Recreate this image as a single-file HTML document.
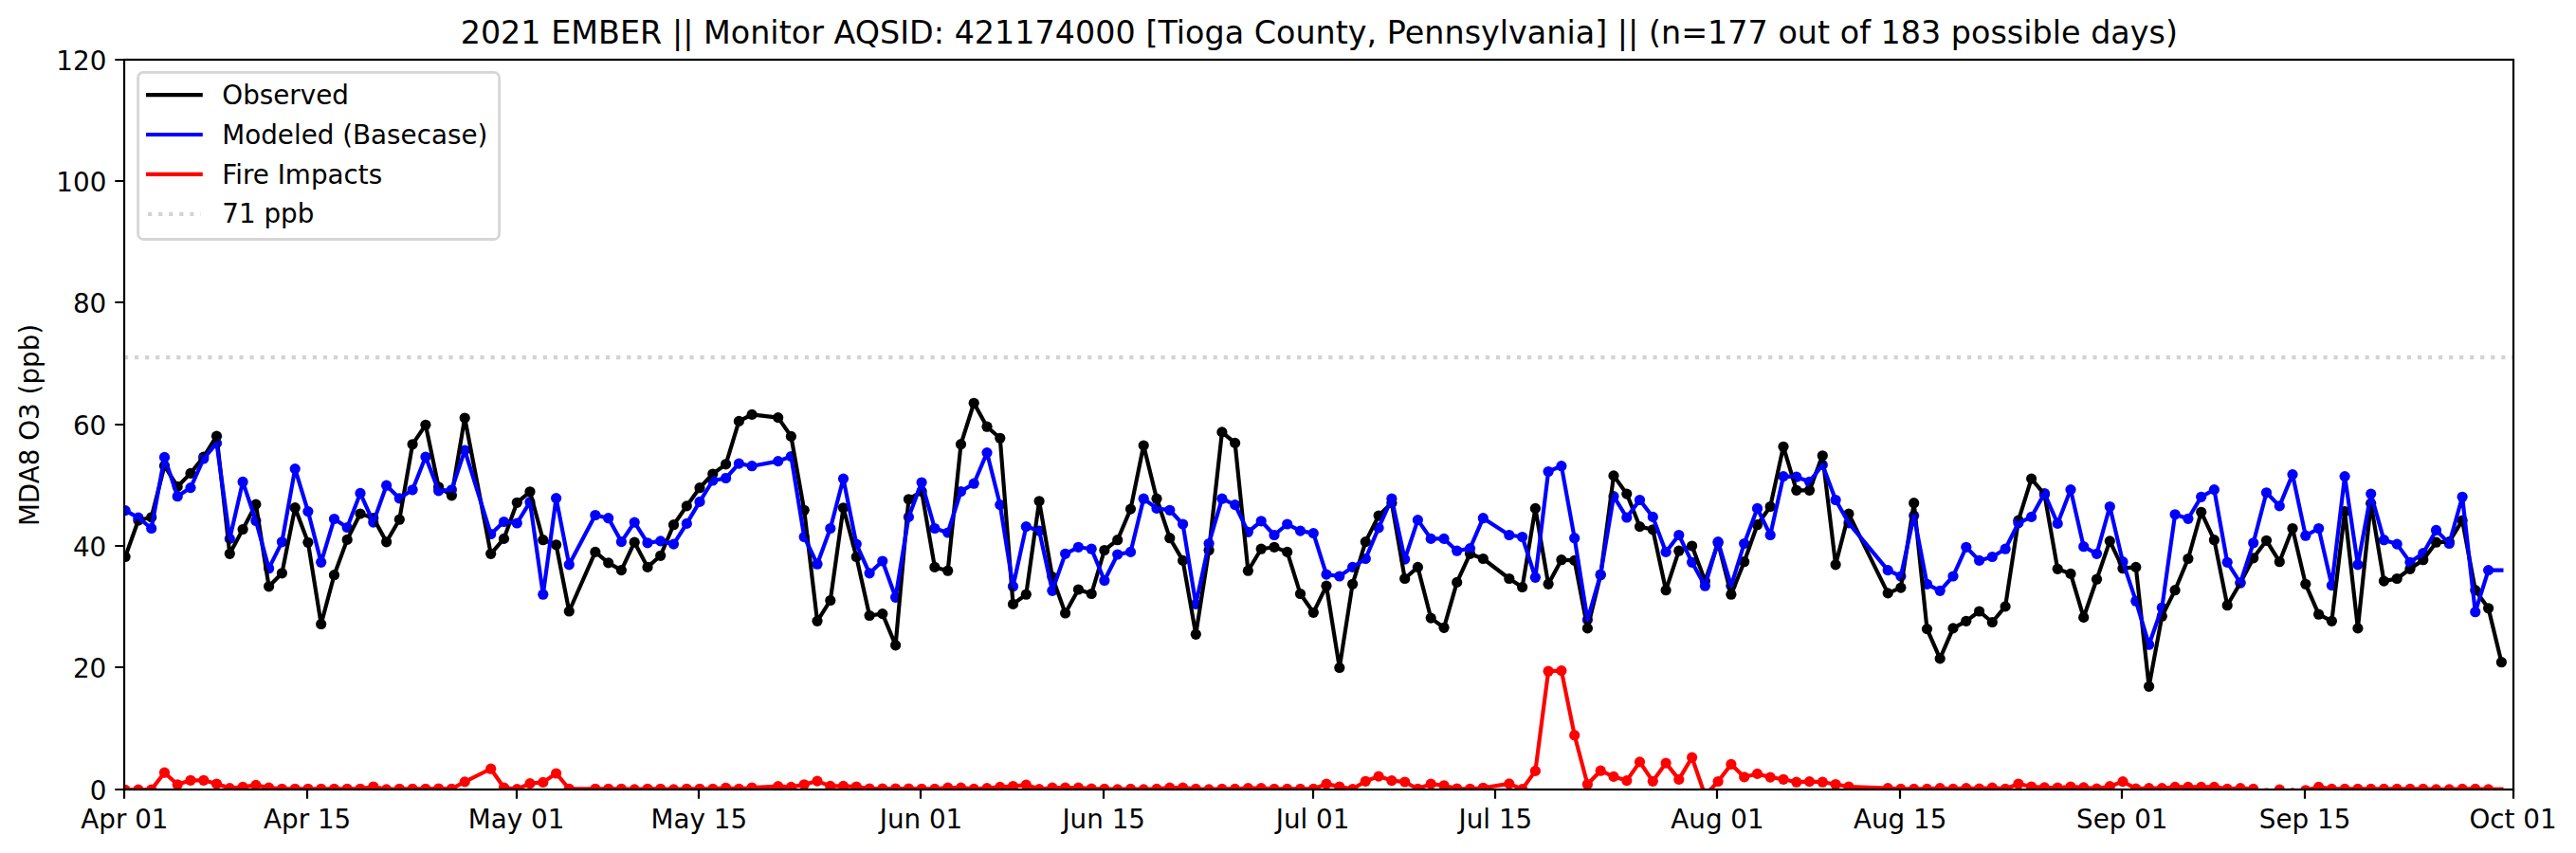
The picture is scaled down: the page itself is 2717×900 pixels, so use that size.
<!DOCTYPE html>
<html><head><meta charset="utf-8"><title>MDA8 O3 time series</title>
<style>html,body{margin:0;padding:0;background:#fff}svg{display:block}text{font-family:"DejaVu Sans","Liberation Sans",sans-serif;fill:#000}</style></head>
<body>
<svg width="2717" height="900" viewBox="0 0 2717 900">
<rect width="2717" height="900" fill="#fff"/>
<defs><clipPath id="ax"><rect x="131.0" y="63.0" width="2520.0" height="770.0"/></clipPath></defs>
<g clip-path="url(#ax)">
<g fill="#000"><circle cx="132.1" cy="587.5" r="5.60"/><circle cx="145.9" cy="549.0" r="5.60"/><circle cx="159.7" cy="545.8" r="5.60"/><circle cx="173.5" cy="491.4" r="5.60"/><circle cx="187.2" cy="513.4" r="5.60"/><circle cx="201.0" cy="499.4" r="5.60"/><circle cx="214.8" cy="482.1" r="5.60"/><circle cx="228.5" cy="460.2" r="5.60"/><circle cx="242.3" cy="584.3" r="5.60"/><circle cx="256.1" cy="558.5" r="5.60"/><circle cx="269.9" cy="532.1" r="5.60"/><circle cx="283.6" cy="618.8" r="5.60"/><circle cx="297.4" cy="604.8" r="5.60"/><circle cx="311.2" cy="535.7" r="5.60"/><circle cx="324.9" cy="572.3" r="5.60"/><circle cx="338.7" cy="658.5" r="5.60"/><circle cx="352.5" cy="606.7" r="5.60"/><circle cx="366.2" cy="569.4" r="5.60"/><circle cx="380.0" cy="542.0" r="5.60"/><circle cx="393.8" cy="546.6" r="5.60"/><circle cx="407.6" cy="571.8" r="5.60"/><circle cx="421.3" cy="548.2" r="5.60"/><circle cx="435.1" cy="468.8" r="5.60"/><circle cx="448.9" cy="448.3" r="5.60"/><circle cx="462.6" cy="513.8" r="5.60"/><circle cx="476.4" cy="522.8" r="5.60"/><circle cx="490.2" cy="441.0" r="5.60"/><circle cx="517.7" cy="584.3" r="5.60"/><circle cx="531.5" cy="568.4" r="5.60"/><circle cx="545.3" cy="530.3" r="5.60"/><circle cx="559.0" cy="518.8" r="5.60"/><circle cx="572.8" cy="569.7" r="5.60"/><circle cx="586.6" cy="574.8" r="5.60"/><circle cx="600.3" cy="645.0" r="5.60"/><circle cx="627.9" cy="582.4" r="5.60"/><circle cx="641.7" cy="593.9" r="5.60"/><circle cx="655.4" cy="601.6" r="5.60"/><circle cx="669.2" cy="572.2" r="5.60"/><circle cx="683.0" cy="598.4" r="5.60"/><circle cx="696.7" cy="586.3" r="5.60"/><circle cx="710.5" cy="553.7" r="5.60"/><circle cx="724.3" cy="533.9" r="5.60"/><circle cx="738.0" cy="514.7" r="5.60"/><circle cx="751.8" cy="500.0" r="5.60"/><circle cx="765.6" cy="489.8" r="5.60"/><circle cx="779.4" cy="444.4" r="5.60"/><circle cx="793.1" cy="437.4" r="5.60"/><circle cx="820.7" cy="440.6" r="5.60"/><circle cx="834.4" cy="460.4" r="5.60"/><circle cx="848.2" cy="538.3" r="5.60"/><circle cx="862.0" cy="655.3" r="5.60"/><circle cx="875.8" cy="633.5" r="5.60"/><circle cx="889.5" cy="535.8" r="5.60"/><circle cx="903.3" cy="587.5" r="5.60"/><circle cx="917.1" cy="649.5" r="5.60"/><circle cx="930.8" cy="647.6" r="5.60"/><circle cx="944.6" cy="680.8" r="5.60"/><circle cx="958.4" cy="526.8" r="5.60"/><circle cx="972.1" cy="518.5" r="5.60"/><circle cx="985.9" cy="598.4" r="5.60"/><circle cx="999.7" cy="602.2" r="5.60"/><circle cx="1013.5" cy="468.7" r="5.60"/><circle cx="1027.2" cy="425.3" r="5.60"/><circle cx="1041.0" cy="450.2" r="5.60"/><circle cx="1054.8" cy="462.3" r="5.60"/><circle cx="1068.5" cy="637.4" r="5.60"/><circle cx="1082.3" cy="627.2" r="5.60"/><circle cx="1096.1" cy="528.8" r="5.60"/><circle cx="1109.9" cy="608.6" r="5.60"/><circle cx="1123.6" cy="647.0" r="5.60"/><circle cx="1137.4" cy="622.0" r="5.60"/><circle cx="1151.2" cy="626.5" r="5.60"/><circle cx="1164.9" cy="580.5" r="5.60"/><circle cx="1178.7" cy="569.7" r="5.60"/><circle cx="1192.5" cy="537.1" r="5.60"/><circle cx="1206.2" cy="470.0" r="5.60"/><circle cx="1220.0" cy="526.2" r="5.60"/><circle cx="1233.8" cy="567.7" r="5.60"/><circle cx="1247.6" cy="591.4" r="5.60"/><circle cx="1261.3" cy="669.3" r="5.60"/><circle cx="1275.1" cy="580.5" r="5.60"/><circle cx="1288.9" cy="455.9" r="5.60"/><circle cx="1302.6" cy="467.4" r="5.60"/><circle cx="1316.4" cy="602.2" r="5.60"/><circle cx="1330.2" cy="579.2" r="5.60"/><circle cx="1344.0" cy="577.3" r="5.60"/><circle cx="1357.7" cy="582.4" r="5.60"/><circle cx="1371.5" cy="626.5" r="5.60"/><circle cx="1385.3" cy="646.3" r="5.60"/><circle cx="1399.0" cy="618.2" r="5.60"/><circle cx="1412.8" cy="704.5" r="5.60"/><circle cx="1426.6" cy="616.3" r="5.60"/><circle cx="1440.3" cy="571.6" r="5.60"/><circle cx="1454.1" cy="544.1" r="5.60"/><circle cx="1467.9" cy="530.7" r="5.60"/><circle cx="1481.7" cy="610.5" r="5.60"/><circle cx="1495.4" cy="598.4" r="5.60"/><circle cx="1509.2" cy="652.1" r="5.60"/><circle cx="1523.0" cy="662.3" r="5.60"/><circle cx="1536.7" cy="614.4" r="5.60"/><circle cx="1550.5" cy="584.3" r="5.60"/><circle cx="1564.3" cy="589.5" r="5.60"/><circle cx="1591.8" cy="610.5" r="5.60"/><circle cx="1605.6" cy="619.5" r="5.60"/><circle cx="1619.4" cy="536.4" r="5.60"/><circle cx="1633.1" cy="616.3" r="5.60"/><circle cx="1646.9" cy="590.7" r="5.60"/><circle cx="1660.7" cy="591.4" r="5.60"/><circle cx="1674.4" cy="662.9" r="5.60"/><circle cx="1688.2" cy="606.7" r="5.60"/><circle cx="1702.0" cy="501.9" r="5.60"/><circle cx="1715.8" cy="521.1" r="5.60"/><circle cx="1729.5" cy="555.6" r="5.60"/><circle cx="1743.3" cy="558.8" r="5.60"/><circle cx="1757.1" cy="622.7" r="5.60"/><circle cx="1770.8" cy="581.2" r="5.60"/><circle cx="1784.6" cy="576.0" r="5.60"/><circle cx="1798.4" cy="613.1" r="5.60"/><circle cx="1812.1" cy="572.8" r="5.60"/><circle cx="1825.9" cy="627.2" r="5.60"/><circle cx="1839.7" cy="592.7" r="5.60"/><circle cx="1853.5" cy="553.7" r="5.60"/><circle cx="1867.2" cy="534.5" r="5.60"/><circle cx="1881.0" cy="471.3" r="5.60"/><circle cx="1894.8" cy="517.3" r="5.60"/><circle cx="1908.5" cy="517.3" r="5.60"/><circle cx="1922.3" cy="480.8" r="5.60"/><circle cx="1936.1" cy="595.8" r="5.60"/><circle cx="1949.9" cy="542.2" r="5.60"/><circle cx="1991.2" cy="625.9" r="5.60"/><circle cx="2004.9" cy="620.1" r="5.60"/><circle cx="2018.7" cy="530.7" r="5.60"/><circle cx="2032.5" cy="663.6" r="5.60"/><circle cx="2046.2" cy="694.9" r="5.60"/><circle cx="2060.0" cy="662.9" r="5.60"/><circle cx="2073.8" cy="655.3" r="5.60"/><circle cx="2087.6" cy="645.0" r="5.60"/><circle cx="2101.3" cy="656.5" r="5.60"/><circle cx="2115.1" cy="639.9" r="5.60"/><circle cx="2128.9" cy="549.2" r="5.60"/><circle cx="2142.6" cy="505.1" r="5.60"/><circle cx="2156.4" cy="521.7" r="5.60"/><circle cx="2170.2" cy="600.3" r="5.60"/><circle cx="2184.0" cy="605.4" r="5.60"/><circle cx="2197.7" cy="651.4" r="5.60"/><circle cx="2211.5" cy="611.2" r="5.60"/><circle cx="2225.3" cy="570.9" r="5.60"/><circle cx="2239.0" cy="599.7" r="5.60"/><circle cx="2252.8" cy="598.4" r="5.60"/><circle cx="2266.6" cy="724.3" r="5.60"/><circle cx="2280.3" cy="650.2" r="5.60"/><circle cx="2294.1" cy="622.7" r="5.60"/><circle cx="2307.9" cy="589.5" r="5.60"/><circle cx="2321.7" cy="540.3" r="5.60"/><circle cx="2335.4" cy="569.7" r="5.60"/><circle cx="2349.2" cy="638.7" r="5.60"/><circle cx="2363.0" cy="615.0" r="5.60"/><circle cx="2376.7" cy="588.8" r="5.60"/><circle cx="2390.5" cy="570.3" r="5.60"/><circle cx="2404.3" cy="592.7" r="5.60"/><circle cx="2418.0" cy="557.5" r="5.60"/><circle cx="2431.8" cy="616.3" r="5.60"/><circle cx="2445.6" cy="648.2" r="5.60"/><circle cx="2459.4" cy="655.3" r="5.60"/><circle cx="2473.1" cy="539.6" r="5.60"/><circle cx="2486.9" cy="662.9" r="5.60"/><circle cx="2500.7" cy="531.3" r="5.60"/><circle cx="2514.4" cy="613.1" r="5.60"/><circle cx="2528.2" cy="610.5" r="5.60"/><circle cx="2542.0" cy="600.3" r="5.60"/><circle cx="2555.8" cy="590.7" r="5.60"/><circle cx="2569.5" cy="572.2" r="5.60"/><circle cx="2583.3" cy="571.6" r="5.60"/><circle cx="2597.1" cy="549.2" r="5.60"/><circle cx="2610.8" cy="622.7" r="5.60"/><circle cx="2624.6" cy="641.8" r="5.60"/><circle cx="2638.4" cy="698.7" r="5.60"/></g>
<g fill="#00f"><circle cx="132.1" cy="538.6" r="5.60"/><circle cx="145.9" cy="546.1" r="5.60"/><circle cx="159.7" cy="557.5" r="5.60"/><circle cx="173.5" cy="482.4" r="5.60"/><circle cx="187.2" cy="523.7" r="5.60"/><circle cx="201.0" cy="514.6" r="5.60"/><circle cx="214.8" cy="484.0" r="5.60"/><circle cx="228.5" cy="467.6" r="5.60"/><circle cx="242.3" cy="568.4" r="5.60"/><circle cx="256.1" cy="508.4" r="5.60"/><circle cx="269.9" cy="549.5" r="5.60"/><circle cx="283.6" cy="599.7" r="5.60"/><circle cx="297.4" cy="571.8" r="5.60"/><circle cx="311.2" cy="494.6" r="5.60"/><circle cx="324.9" cy="539.6" r="5.60"/><circle cx="338.7" cy="593.3" r="5.60"/><circle cx="352.5" cy="547.5" r="5.60"/><circle cx="366.2" cy="556.5" r="5.60"/><circle cx="380.0" cy="520.4" r="5.60"/><circle cx="393.8" cy="551.1" r="5.60"/><circle cx="407.6" cy="512.2" r="5.60"/><circle cx="421.3" cy="525.8" r="5.60"/><circle cx="435.1" cy="516.8" r="5.60"/><circle cx="448.9" cy="482.1" r="5.60"/><circle cx="462.6" cy="517.8" r="5.60"/><circle cx="476.4" cy="516.8" r="5.60"/><circle cx="490.2" cy="475.1" r="5.60"/><circle cx="517.7" cy="563.5" r="5.60"/><circle cx="531.5" cy="550.5" r="5.60"/><circle cx="545.3" cy="552.0" r="5.60"/><circle cx="559.0" cy="529.7" r="5.60"/><circle cx="572.8" cy="627.2" r="5.60"/><circle cx="586.6" cy="525.6" r="5.60"/><circle cx="600.3" cy="595.8" r="5.60"/><circle cx="627.9" cy="543.5" r="5.60"/><circle cx="641.7" cy="546.7" r="5.60"/><circle cx="655.4" cy="571.6" r="5.60"/><circle cx="669.2" cy="551.1" r="5.60"/><circle cx="683.0" cy="572.8" r="5.60"/><circle cx="696.7" cy="570.9" r="5.60"/><circle cx="710.5" cy="574.1" r="5.60"/><circle cx="724.3" cy="552.4" r="5.60"/><circle cx="738.0" cy="529.4" r="5.60"/><circle cx="751.8" cy="507.0" r="5.60"/><circle cx="765.6" cy="504.5" r="5.60"/><circle cx="779.4" cy="489.1" r="5.60"/><circle cx="793.1" cy="491.7" r="5.60"/><circle cx="820.7" cy="486.6" r="5.60"/><circle cx="834.4" cy="481.5" r="5.60"/><circle cx="848.2" cy="566.5" r="5.60"/><circle cx="862.0" cy="595.2" r="5.60"/><circle cx="875.8" cy="557.5" r="5.60"/><circle cx="889.5" cy="505.1" r="5.60"/><circle cx="903.3" cy="574.1" r="5.60"/><circle cx="917.1" cy="604.8" r="5.60"/><circle cx="930.8" cy="592.0" r="5.60"/><circle cx="944.6" cy="630.3" r="5.60"/><circle cx="958.4" cy="545.4" r="5.60"/><circle cx="972.1" cy="509.0" r="5.60"/><circle cx="985.9" cy="557.5" r="5.60"/><circle cx="999.7" cy="562.0" r="5.60"/><circle cx="1013.5" cy="518.5" r="5.60"/><circle cx="1027.2" cy="510.2" r="5.60"/><circle cx="1041.0" cy="477.6" r="5.60"/><circle cx="1054.8" cy="532.6" r="5.60"/><circle cx="1068.5" cy="618.8" r="5.60"/><circle cx="1082.3" cy="555.6" r="5.60"/><circle cx="1096.1" cy="560.1" r="5.60"/><circle cx="1109.9" cy="623.3" r="5.60"/><circle cx="1123.6" cy="584.3" r="5.60"/><circle cx="1137.4" cy="577.3" r="5.60"/><circle cx="1151.2" cy="579.2" r="5.60"/><circle cx="1164.9" cy="612.5" r="5.60"/><circle cx="1178.7" cy="585.0" r="5.60"/><circle cx="1192.5" cy="582.4" r="5.60"/><circle cx="1206.2" cy="526.2" r="5.60"/><circle cx="1220.0" cy="536.4" r="5.60"/><circle cx="1233.8" cy="538.3" r="5.60"/><circle cx="1247.6" cy="553.0" r="5.60"/><circle cx="1261.3" cy="637.4" r="5.60"/><circle cx="1275.1" cy="573.5" r="5.60"/><circle cx="1288.9" cy="526.2" r="5.60"/><circle cx="1302.6" cy="532.6" r="5.60"/><circle cx="1316.4" cy="561.3" r="5.60"/><circle cx="1330.2" cy="549.8" r="5.60"/><circle cx="1344.0" cy="564.5" r="5.60"/><circle cx="1357.7" cy="553.0" r="5.60"/><circle cx="1371.5" cy="560.1" r="5.60"/><circle cx="1385.3" cy="562.6" r="5.60"/><circle cx="1399.0" cy="606.1" r="5.60"/><circle cx="1412.8" cy="608.0" r="5.60"/><circle cx="1426.6" cy="598.4" r="5.60"/><circle cx="1440.3" cy="589.5" r="5.60"/><circle cx="1454.1" cy="556.9" r="5.60"/><circle cx="1467.9" cy="526.2" r="5.60"/><circle cx="1481.7" cy="590.1" r="5.60"/><circle cx="1495.4" cy="548.6" r="5.60"/><circle cx="1509.2" cy="568.4" r="5.60"/><circle cx="1523.0" cy="568.4" r="5.60"/><circle cx="1536.7" cy="581.2" r="5.60"/><circle cx="1550.5" cy="578.6" r="5.60"/><circle cx="1564.3" cy="546.7" r="5.60"/><circle cx="1591.8" cy="564.5" r="5.60"/><circle cx="1605.6" cy="566.5" r="5.60"/><circle cx="1619.4" cy="609.3" r="5.60"/><circle cx="1633.1" cy="497.5" r="5.60"/><circle cx="1646.9" cy="491.7" r="5.60"/><circle cx="1660.7" cy="567.7" r="5.60"/><circle cx="1674.4" cy="654.0" r="5.60"/><circle cx="1688.2" cy="606.1" r="5.60"/><circle cx="1702.0" cy="523.7" r="5.60"/><circle cx="1715.8" cy="546.0" r="5.60"/><circle cx="1729.5" cy="527.5" r="5.60"/><circle cx="1743.3" cy="545.4" r="5.60"/><circle cx="1757.1" cy="582.4" r="5.60"/><circle cx="1770.8" cy="564.5" r="5.60"/><circle cx="1784.6" cy="593.3" r="5.60"/><circle cx="1798.4" cy="618.2" r="5.60"/><circle cx="1812.1" cy="571.6" r="5.60"/><circle cx="1825.9" cy="618.2" r="5.60"/><circle cx="1839.7" cy="573.5" r="5.60"/><circle cx="1853.5" cy="536.4" r="5.60"/><circle cx="1867.2" cy="564.5" r="5.60"/><circle cx="1881.0" cy="502.6" r="5.60"/><circle cx="1894.8" cy="503.2" r="5.60"/><circle cx="1908.5" cy="508.3" r="5.60"/><circle cx="1922.3" cy="490.4" r="5.60"/><circle cx="1936.1" cy="527.5" r="5.60"/><circle cx="1949.9" cy="551.8" r="5.60"/><circle cx="1991.2" cy="601.6" r="5.60"/><circle cx="2004.9" cy="608.0" r="5.60"/><circle cx="2018.7" cy="544.1" r="5.60"/><circle cx="2032.5" cy="616.3" r="5.60"/><circle cx="2046.2" cy="623.3" r="5.60"/><circle cx="2060.0" cy="608.0" r="5.60"/><circle cx="2073.8" cy="577.3" r="5.60"/><circle cx="2087.6" cy="591.4" r="5.60"/><circle cx="2101.3" cy="587.5" r="5.60"/><circle cx="2115.1" cy="579.2" r="5.60"/><circle cx="2128.9" cy="551.8" r="5.60"/><circle cx="2142.6" cy="545.4" r="5.60"/><circle cx="2156.4" cy="520.5" r="5.60"/><circle cx="2170.2" cy="552.4" r="5.60"/><circle cx="2184.0" cy="516.6" r="5.60"/><circle cx="2197.7" cy="576.7" r="5.60"/><circle cx="2211.5" cy="584.3" r="5.60"/><circle cx="2225.3" cy="534.5" r="5.60"/><circle cx="2239.0" cy="592.7" r="5.60"/><circle cx="2252.8" cy="634.2" r="5.60"/><circle cx="2266.6" cy="680.2" r="5.60"/><circle cx="2280.3" cy="641.2" r="5.60"/><circle cx="2294.1" cy="542.8" r="5.60"/><circle cx="2307.9" cy="547.3" r="5.60"/><circle cx="2321.7" cy="524.3" r="5.60"/><circle cx="2335.4" cy="516.6" r="5.60"/><circle cx="2349.2" cy="593.3" r="5.60"/><circle cx="2363.0" cy="615.0" r="5.60"/><circle cx="2376.7" cy="572.8" r="5.60"/><circle cx="2390.5" cy="519.8" r="5.60"/><circle cx="2404.3" cy="533.9" r="5.60"/><circle cx="2418.0" cy="500.6" r="5.60"/><circle cx="2431.8" cy="565.2" r="5.60"/><circle cx="2445.6" cy="557.5" r="5.60"/><circle cx="2459.4" cy="617.6" r="5.60"/><circle cx="2473.1" cy="502.6" r="5.60"/><circle cx="2486.9" cy="595.8" r="5.60"/><circle cx="2500.7" cy="521.1" r="5.60"/><circle cx="2514.4" cy="569.7" r="5.60"/><circle cx="2528.2" cy="574.1" r="5.60"/><circle cx="2542.0" cy="593.3" r="5.60"/><circle cx="2555.8" cy="583.7" r="5.60"/><circle cx="2569.5" cy="559.4" r="5.60"/><circle cx="2583.3" cy="573.5" r="5.60"/><circle cx="2597.1" cy="524.3" r="5.60"/><circle cx="2610.8" cy="645.7" r="5.60"/><circle cx="2624.6" cy="601.6" r="5.60"/></g>
<g fill="#f00"><circle cx="132.1" cy="833.4" r="5.60"/><circle cx="145.9" cy="833.2" r="5.60"/><circle cx="159.7" cy="833.1" r="5.60"/><circle cx="173.5" cy="815.2" r="5.60"/><circle cx="187.2" cy="827.8" r="5.60"/><circle cx="201.0" cy="823.3" r="5.60"/><circle cx="214.8" cy="823.3" r="5.60"/><circle cx="228.5" cy="827.0" r="5.60"/><circle cx="242.3" cy="831.6" r="5.60"/><circle cx="256.1" cy="830.4" r="5.60"/><circle cx="269.9" cy="828.4" r="5.60"/><circle cx="283.6" cy="831.2" r="5.60"/><circle cx="297.4" cy="832.3" r="5.60"/><circle cx="311.2" cy="832.3" r="5.60"/><circle cx="324.9" cy="832.3" r="5.60"/><circle cx="338.7" cy="832.3" r="5.60"/><circle cx="352.5" cy="832.3" r="5.60"/><circle cx="366.2" cy="832.3" r="5.60"/><circle cx="380.0" cy="832.3" r="5.60"/><circle cx="393.8" cy="830.0" r="5.60"/><circle cx="407.6" cy="832.9" r="5.60"/><circle cx="421.3" cy="832.3" r="5.60"/><circle cx="435.1" cy="832.3" r="5.60"/><circle cx="448.9" cy="832.3" r="5.60"/><circle cx="462.6" cy="832.0" r="5.60"/><circle cx="476.4" cy="832.3" r="5.60"/><circle cx="490.2" cy="824.9" r="5.60"/><circle cx="517.7" cy="811.2" r="5.60"/><circle cx="531.5" cy="831.0" r="5.60"/><circle cx="545.3" cy="832.6" r="5.60"/><circle cx="559.0" cy="826.6" r="5.60"/><circle cx="572.8" cy="825.4" r="5.60"/><circle cx="586.6" cy="816.0" r="5.60"/><circle cx="600.3" cy="832.3" r="5.60"/><circle cx="627.9" cy="832.3" r="5.60"/><circle cx="641.7" cy="832.3" r="5.60"/><circle cx="655.4" cy="832.3" r="5.60"/><circle cx="669.2" cy="832.9" r="5.60"/><circle cx="683.0" cy="832.3" r="5.60"/><circle cx="696.7" cy="832.3" r="5.60"/><circle cx="710.5" cy="832.9" r="5.60"/><circle cx="724.3" cy="832.3" r="5.60"/><circle cx="738.0" cy="832.3" r="5.60"/><circle cx="751.8" cy="832.3" r="5.60"/><circle cx="765.6" cy="831.3" r="5.60"/><circle cx="779.4" cy="832.3" r="5.60"/><circle cx="793.1" cy="831.0" r="5.60"/><circle cx="820.7" cy="829.7" r="5.60"/><circle cx="834.4" cy="830.4" r="5.60"/><circle cx="848.2" cy="827.8" r="5.60"/><circle cx="862.0" cy="824.1" r="5.60"/><circle cx="875.8" cy="829.4" r="5.60"/><circle cx="889.5" cy="829.4" r="5.60"/><circle cx="903.3" cy="830.0" r="5.60"/><circle cx="917.1" cy="832.0" r="5.60"/><circle cx="930.8" cy="832.0" r="5.60"/><circle cx="944.6" cy="832.0" r="5.60"/><circle cx="958.4" cy="832.0" r="5.60"/><circle cx="972.1" cy="832.3" r="5.60"/><circle cx="985.9" cy="832.4" r="5.60"/><circle cx="999.7" cy="831.2" r="5.60"/><circle cx="1013.5" cy="831.2" r="5.60"/><circle cx="1027.2" cy="832.4" r="5.60"/><circle cx="1041.0" cy="831.6" r="5.60"/><circle cx="1054.8" cy="830.4" r="5.60"/><circle cx="1068.5" cy="829.5" r="5.60"/><circle cx="1082.3" cy="828.1" r="5.60"/><circle cx="1096.1" cy="832.6" r="5.60"/><circle cx="1109.9" cy="831.2" r="5.60"/><circle cx="1123.6" cy="831.2" r="5.60"/><circle cx="1137.4" cy="831.2" r="5.60"/><circle cx="1151.2" cy="832.1" r="5.60"/><circle cx="1164.9" cy="832.4" r="5.60"/><circle cx="1178.7" cy="832.9" r="5.60"/><circle cx="1192.5" cy="832.4" r="5.60"/><circle cx="1206.2" cy="832.9" r="5.60"/><circle cx="1220.0" cy="832.4" r="5.60"/><circle cx="1233.8" cy="831.2" r="5.60"/><circle cx="1247.6" cy="831.2" r="5.60"/><circle cx="1261.3" cy="832.4" r="5.60"/><circle cx="1275.1" cy="832.9" r="5.60"/><circle cx="1288.9" cy="832.4" r="5.60"/><circle cx="1302.6" cy="832.4" r="5.60"/><circle cx="1316.4" cy="831.6" r="5.60"/><circle cx="1330.2" cy="831.6" r="5.60"/><circle cx="1344.0" cy="832.4" r="5.60"/><circle cx="1357.7" cy="832.4" r="5.60"/><circle cx="1371.5" cy="832.4" r="5.60"/><circle cx="1385.3" cy="832.4" r="5.60"/><circle cx="1399.0" cy="827.1" r="5.60"/><circle cx="1412.8" cy="830.0" r="5.60"/><circle cx="1426.6" cy="832.6" r="5.60"/><circle cx="1440.3" cy="824.3" r="5.60"/><circle cx="1454.1" cy="819.1" r="5.60"/><circle cx="1467.9" cy="823.6" r="5.60"/><circle cx="1481.7" cy="825.0" r="5.60"/><circle cx="1495.4" cy="832.3" r="5.60"/><circle cx="1509.2" cy="827.1" r="5.60"/><circle cx="1523.0" cy="828.8" r="5.60"/><circle cx="1536.7" cy="832.0" r="5.60"/><circle cx="1550.5" cy="832.3" r="5.60"/><circle cx="1564.3" cy="831.3" r="5.60"/><circle cx="1591.8" cy="826.9" r="5.60"/><circle cx="1605.6" cy="832.6" r="5.60"/><circle cx="1619.4" cy="813.4" r="5.60"/><circle cx="1633.1" cy="708.2" r="5.60"/><circle cx="1646.9" cy="707.6" r="5.60"/><circle cx="1660.7" cy="775.7" r="5.60"/><circle cx="1674.4" cy="827.5" r="5.60"/><circle cx="1688.2" cy="813.2" r="5.60"/><circle cx="1702.0" cy="819.4" r="5.60"/><circle cx="1715.8" cy="823.6" r="5.60"/><circle cx="1729.5" cy="803.9" r="5.60"/><circle cx="1743.3" cy="824.3" r="5.60"/><circle cx="1757.1" cy="805.1" r="5.60"/><circle cx="1770.8" cy="822.4" r="5.60"/><circle cx="1784.6" cy="799.2" r="5.60"/><circle cx="1798.4" cy="839.3" r="5.60"/><circle cx="1812.1" cy="824.5" r="5.60"/><circle cx="1825.9" cy="806.4" r="5.60"/><circle cx="1839.7" cy="819.8" r="5.60"/><circle cx="1853.5" cy="816.4" r="5.60"/><circle cx="1867.2" cy="820.1" r="5.60"/><circle cx="1881.0" cy="822.3" r="5.60"/><circle cx="1894.8" cy="825.2" r="5.60"/><circle cx="1908.5" cy="824.6" r="5.60"/><circle cx="1922.3" cy="825.2" r="5.60"/><circle cx="1936.1" cy="827.5" r="5.60"/><circle cx="1949.9" cy="830.0" r="5.60"/><circle cx="1991.2" cy="831.7" r="5.60"/><circle cx="2004.9" cy="832.4" r="5.60"/><circle cx="2018.7" cy="832.4" r="5.60"/><circle cx="2032.5" cy="832.4" r="5.60"/><circle cx="2046.2" cy="831.7" r="5.60"/><circle cx="2060.0" cy="832.4" r="5.60"/><circle cx="2073.8" cy="831.7" r="5.60"/><circle cx="2087.6" cy="832.1" r="5.60"/><circle cx="2101.3" cy="831.2" r="5.60"/><circle cx="2115.1" cy="832.4" r="5.60"/><circle cx="2128.9" cy="827.0" r="5.60"/><circle cx="2142.6" cy="830.0" r="5.60"/><circle cx="2156.4" cy="830.9" r="5.60"/><circle cx="2170.2" cy="831.2" r="5.60"/><circle cx="2184.0" cy="830.0" r="5.60"/><circle cx="2197.7" cy="830.9" r="5.60"/><circle cx="2211.5" cy="832.1" r="5.60"/><circle cx="2225.3" cy="829.7" r="5.60"/><circle cx="2239.0" cy="824.6" r="5.60"/><circle cx="2252.8" cy="832.1" r="5.60"/><circle cx="2266.6" cy="831.7" r="5.60"/><circle cx="2280.3" cy="831.7" r="5.60"/><circle cx="2294.1" cy="830.4" r="5.60"/><circle cx="2307.9" cy="830.4" r="5.60"/><circle cx="2321.7" cy="830.4" r="5.60"/><circle cx="2335.4" cy="830.4" r="5.60"/><circle cx="2349.2" cy="832.4" r="5.60"/><circle cx="2363.0" cy="831.7" r="5.60"/><circle cx="2376.7" cy="832.4" r="5.60"/><circle cx="2390.5" cy="837.2" r="5.60"/><circle cx="2404.3" cy="833.2" r="5.60"/><circle cx="2418.0" cy="836.8" r="5.60"/><circle cx="2431.8" cy="833.8" r="5.60"/><circle cx="2445.6" cy="830.4" r="5.60"/><circle cx="2459.4" cy="832.4" r="5.60"/><circle cx="2473.1" cy="832.4" r="5.60"/><circle cx="2486.9" cy="832.4" r="5.60"/><circle cx="2500.7" cy="832.4" r="5.60"/><circle cx="2514.4" cy="832.4" r="5.60"/><circle cx="2528.2" cy="832.4" r="5.60"/><circle cx="2542.0" cy="832.4" r="5.60"/><circle cx="2555.8" cy="832.4" r="5.60"/><circle cx="2569.5" cy="832.9" r="5.60"/><circle cx="2583.3" cy="832.9" r="5.60"/><circle cx="2597.1" cy="832.4" r="5.60"/><circle cx="2610.8" cy="832.4" r="5.60"/><circle cx="2624.6" cy="832.9" r="5.60"/></g>
<polyline fill="none" stroke="#000" stroke-width="4.17" stroke-linejoin="round" stroke-linecap="square" points="132.1,587.5 145.9,549.0 159.7,545.8 173.5,491.4 187.2,513.4 201.0,499.4 214.8,482.1 228.5,460.2 242.3,584.3 256.1,558.5 269.9,532.1 283.6,618.8 297.4,604.8 311.2,535.7 324.9,572.3 338.7,658.5 352.5,606.7 366.2,569.4 380.0,542.0 393.8,546.6 407.6,571.8 421.3,548.2 435.1,468.8 448.9,448.3 462.6,513.8 476.4,522.8 490.2,441.0 517.7,584.3 531.5,568.4 545.3,530.3 559.0,518.8 572.8,569.7 586.6,574.8 600.3,645.0 627.9,582.4 641.7,593.9 655.4,601.6 669.2,572.2 683.0,598.4 696.7,586.3 710.5,553.7 724.3,533.9 738.0,514.7 751.8,500.0 765.6,489.8 779.4,444.4 793.1,437.4 820.7,440.6 834.4,460.4 848.2,538.3 862.0,655.3 875.8,633.5 889.5,535.8 903.3,587.5 917.1,649.5 930.8,647.6 944.6,680.8 958.4,526.8 972.1,518.5 985.9,598.4 999.7,602.2 1013.5,468.7 1027.2,425.3 1041.0,450.2 1054.8,462.3 1068.5,637.4 1082.3,627.2 1096.1,528.8 1109.9,608.6 1123.6,647.0 1137.4,622.0 1151.2,626.5 1164.9,580.5 1178.7,569.7 1192.5,537.1 1206.2,470.0 1220.0,526.2 1233.8,567.7 1247.6,591.4 1261.3,669.3 1275.1,580.5 1288.9,455.9 1302.6,467.4 1316.4,602.2 1330.2,579.2 1344.0,577.3 1357.7,582.4 1371.5,626.5 1385.3,646.3 1399.0,618.2 1412.8,704.5 1426.6,616.3 1440.3,571.6 1454.1,544.1 1467.9,530.7 1481.7,610.5 1495.4,598.4 1509.2,652.1 1523.0,662.3 1536.7,614.4 1550.5,584.3 1564.3,589.5 1591.8,610.5 1605.6,619.5 1619.4,536.4 1633.1,616.3 1646.9,590.7 1660.7,591.4 1674.4,662.9 1688.2,606.7 1702.0,501.9 1715.8,521.1 1729.5,555.6 1743.3,558.8 1757.1,622.7 1770.8,581.2 1784.6,576.0 1798.4,613.1 1812.1,572.8 1825.9,627.2 1839.7,592.7 1853.5,553.7 1867.2,534.5 1881.0,471.3 1894.8,517.3 1908.5,517.3 1922.3,480.8 1936.1,595.8 1949.9,542.2 1991.2,625.9 2004.9,620.1 2018.7,530.7 2032.5,663.6 2046.2,694.9 2060.0,662.9 2073.8,655.3 2087.6,645.0 2101.3,656.5 2115.1,639.9 2128.9,549.2 2142.6,505.1 2156.4,521.7 2170.2,600.3 2184.0,605.4 2197.7,651.4 2211.5,611.2 2225.3,570.9 2239.0,599.7 2252.8,598.4 2266.6,724.3 2280.3,650.2 2294.1,622.7 2307.9,589.5 2321.7,540.3 2335.4,569.7 2349.2,638.7 2363.0,615.0 2376.7,588.8 2390.5,570.3 2404.3,592.7 2418.0,557.5 2431.8,616.3 2445.6,648.2 2459.4,655.3 2473.1,539.6 2486.9,662.9 2500.7,531.3 2514.4,613.1 2528.2,610.5 2542.0,600.3 2555.8,590.7 2569.5,572.2 2583.3,571.6 2597.1,549.2 2610.8,622.7 2624.6,641.8 2638.4,698.7"/>
<polyline fill="none" stroke="#00f" stroke-width="4.17" stroke-linejoin="round" stroke-linecap="square" points="132.1,538.6 145.9,546.1 159.7,557.5 173.5,482.4 187.2,523.7 201.0,514.6 214.8,484.0 228.5,467.6 242.3,568.4 256.1,508.4 269.9,549.5 283.6,599.7 297.4,571.8 311.2,494.6 324.9,539.6 338.7,593.3 352.5,547.5 366.2,556.5 380.0,520.4 393.8,551.1 407.6,512.2 421.3,525.8 435.1,516.8 448.9,482.1 462.6,517.8 476.4,516.8 490.2,475.1 517.7,563.5 531.5,550.5 545.3,552.0 559.0,529.7 572.8,627.2 586.6,525.6 600.3,595.8 627.9,543.5 641.7,546.7 655.4,571.6 669.2,551.1 683.0,572.8 696.7,570.9 710.5,574.1 724.3,552.4 738.0,529.4 751.8,507.0 765.6,504.5 779.4,489.1 793.1,491.7 820.7,486.6 834.4,481.5 848.2,566.5 862.0,595.2 875.8,557.5 889.5,505.1 903.3,574.1 917.1,604.8 930.8,592.0 944.6,630.3 958.4,545.4 972.1,509.0 985.9,557.5 999.7,562.0 1013.5,518.5 1027.2,510.2 1041.0,477.6 1054.8,532.6 1068.5,618.8 1082.3,555.6 1096.1,560.1 1109.9,623.3 1123.6,584.3 1137.4,577.3 1151.2,579.2 1164.9,612.5 1178.7,585.0 1192.5,582.4 1206.2,526.2 1220.0,536.4 1233.8,538.3 1247.6,553.0 1261.3,637.4 1275.1,573.5 1288.9,526.2 1302.6,532.6 1316.4,561.3 1330.2,549.8 1344.0,564.5 1357.7,553.0 1371.5,560.1 1385.3,562.6 1399.0,606.1 1412.8,608.0 1426.6,598.4 1440.3,589.5 1454.1,556.9 1467.9,526.2 1481.7,590.1 1495.4,548.6 1509.2,568.4 1523.0,568.4 1536.7,581.2 1550.5,578.6 1564.3,546.7 1591.8,564.5 1605.6,566.5 1619.4,609.3 1633.1,497.5 1646.9,491.7 1660.7,567.7 1674.4,654.0 1688.2,606.1 1702.0,523.7 1715.8,546.0 1729.5,527.5 1743.3,545.4 1757.1,582.4 1770.8,564.5 1784.6,593.3 1798.4,618.2 1812.1,571.6 1825.9,618.2 1839.7,573.5 1853.5,536.4 1867.2,564.5 1881.0,502.6 1894.8,503.2 1908.5,508.3 1922.3,490.4 1936.1,527.5 1949.9,551.8 1991.2,601.6 2004.9,608.0 2018.7,544.1 2032.5,616.3 2046.2,623.3 2060.0,608.0 2073.8,577.3 2087.6,591.4 2101.3,587.5 2115.1,579.2 2128.9,551.8 2142.6,545.4 2156.4,520.5 2170.2,552.4 2184.0,516.6 2197.7,576.7 2211.5,584.3 2225.3,534.5 2239.0,592.7 2252.8,634.2 2266.6,680.2 2280.3,641.2 2294.1,542.8 2307.9,547.3 2321.7,524.3 2335.4,516.6 2349.2,593.3 2363.0,615.0 2376.7,572.8 2390.5,519.8 2404.3,533.9 2418.0,500.6 2431.8,565.2 2445.6,557.5 2459.4,617.6 2473.1,502.6 2486.9,595.8 2500.7,521.1 2514.4,569.7 2528.2,574.1 2542.0,593.3 2555.8,583.7 2569.5,559.4 2583.3,573.5 2597.1,524.3 2610.8,645.7 2624.6,601.6 2638.4,601.6"/>
<polyline fill="none" stroke="#f00" stroke-width="4.17" stroke-linejoin="round" stroke-linecap="square" points="132.1,833.4 145.9,833.2 159.7,833.1 173.5,815.2 187.2,827.8 201.0,823.3 214.8,823.3 228.5,827.0 242.3,831.6 256.1,830.4 269.9,828.4 283.6,831.2 297.4,832.3 311.2,832.3 324.9,832.3 338.7,832.3 352.5,832.3 366.2,832.3 380.0,832.3 393.8,830.0 407.6,832.9 421.3,832.3 435.1,832.3 448.9,832.3 462.6,832.0 476.4,832.3 490.2,824.9 517.7,811.2 531.5,831.0 545.3,832.6 559.0,826.6 572.8,825.4 586.6,816.0 600.3,832.3 627.9,832.3 641.7,832.3 655.4,832.3 669.2,832.9 683.0,832.3 696.7,832.3 710.5,832.9 724.3,832.3 738.0,832.3 751.8,832.3 765.6,831.3 779.4,832.3 793.1,831.0 820.7,829.7 834.4,830.4 848.2,827.8 862.0,824.1 875.8,829.4 889.5,829.4 903.3,830.0 917.1,832.0 930.8,832.0 944.6,832.0 958.4,832.0 972.1,832.3 985.9,832.4 999.7,831.2 1013.5,831.2 1027.2,832.4 1041.0,831.6 1054.8,830.4 1068.5,829.5 1082.3,828.1 1096.1,832.6 1109.9,831.2 1123.6,831.2 1137.4,831.2 1151.2,832.1 1164.9,832.4 1178.7,832.9 1192.5,832.4 1206.2,832.9 1220.0,832.4 1233.8,831.2 1247.6,831.2 1261.3,832.4 1275.1,832.9 1288.9,832.4 1302.6,832.4 1316.4,831.6 1330.2,831.6 1344.0,832.4 1357.7,832.4 1371.5,832.4 1385.3,832.4 1399.0,827.1 1412.8,830.0 1426.6,832.6 1440.3,824.3 1454.1,819.1 1467.9,823.6 1481.7,825.0 1495.4,832.3 1509.2,827.1 1523.0,828.8 1536.7,832.0 1550.5,832.3 1564.3,831.3 1591.8,826.9 1605.6,832.6 1619.4,813.4 1633.1,708.2 1646.9,707.6 1660.7,775.7 1674.4,827.5 1688.2,813.2 1702.0,819.4 1715.8,823.6 1729.5,803.9 1743.3,824.3 1757.1,805.1 1770.8,822.4 1784.6,799.2 1798.4,839.3 1812.1,824.5 1825.9,806.4 1839.7,819.8 1853.5,816.4 1867.2,820.1 1881.0,822.3 1894.8,825.2 1908.5,824.6 1922.3,825.2 1936.1,827.5 1949.9,830.0 1991.2,831.7 2004.9,832.4 2018.7,832.4 2032.5,832.4 2046.2,831.7 2060.0,832.4 2073.8,831.7 2087.6,832.1 2101.3,831.2 2115.1,832.4 2128.9,827.0 2142.6,830.0 2156.4,830.9 2170.2,831.2 2184.0,830.0 2197.7,830.9 2211.5,832.1 2225.3,829.7 2239.0,824.6 2252.8,832.1 2266.6,831.7 2280.3,831.7 2294.1,830.4 2307.9,830.4 2321.7,830.4 2335.4,830.4 2349.2,832.4 2363.0,831.7 2376.7,832.4 2390.5,837.2 2404.3,833.2 2418.0,836.8 2431.8,833.8 2445.6,830.4 2459.4,832.4 2473.1,832.4 2486.9,832.4 2500.7,832.4 2514.4,832.4 2528.2,832.4 2542.0,832.4 2555.8,832.4 2569.5,832.9 2583.3,832.9 2597.1,832.4 2610.8,832.4 2624.6,832.9 2638.4,832.6"/>
<line x1="131.0" y1="377.07" x2="2651.0" y2="377.07" stroke="#d3d3d3" stroke-width="4.17" stroke-dasharray="4.17 6.875"/>
</g>
<path d="M131.0 833.00h-9.7 M131.0 704.00h-9.7 M131.0 576.00h-9.7 M131.0 448.00h-9.7 M131.0 319.00h-9.7 M131.0 191.00h-9.7 M131.0 63.00h-9.7 M131.00 833.0v9.7 M324.00 833.0v9.7 M545.00 833.0v9.7 M737.00 833.0v9.7 M971.00 833.0v9.7 M1164.00 833.0v9.7 M1385.00 833.0v9.7 M1577.00 833.0v9.7 M1811.00 833.0v9.7 M2004.00 833.0v9.7 M2238.00 833.0v9.7 M2431.00 833.0v9.7 M2651.00 833.0v9.7" stroke="#000" stroke-width="2.22" fill="none"/>
<rect x="131.0" y="63.0" width="2520.0" height="770.0" fill="none" stroke="#000" stroke-width="2.22"/>
<g font-size="27.78" text-anchor="end">
<text x="112.3" y="844.3">0</text><text x="112.3" y="715.3">20</text><text x="112.3" y="587.3">40</text><text x="112.3" y="459.3">60</text><text x="112.3" y="330.3">80</text><text x="112.3" y="202.3">100</text><text x="112.3" y="74.3">120</text>
</g>
<g font-size="27.78" text-anchor="middle">
<text x="131.4" y="874.3">Apr 01</text><text x="324.2" y="874.3">Apr 15</text><text x="544.6" y="874.3">May 01</text><text x="737.4" y="874.3">May 15</text><text x="971.5" y="874.3">Jun 01</text><text x="1164.2" y="874.3">Jun 15</text><text x="1384.6" y="874.3">Jul 01</text><text x="1577.4" y="874.3">Jul 15</text><text x="1811.5" y="874.3">Aug 01</text><text x="2004.2" y="874.3">Aug 15</text><text x="2238.3" y="874.3">Sep 01</text><text x="2431.1" y="874.3">Sep 15</text><text x="2650.6" y="874.3">Oct 01</text>
</g>
<text font-size="27.78" text-anchor="middle" transform="translate(40.7 448.5) rotate(-90)">MDA8 O3 (ppb)</text>
<text font-size="33.33" text-anchor="middle" x="1391.3" y="45.5" textLength="1811.3" lengthAdjust="spacing">2021 EMBER || Monitor AQSID: 421174000 [Tioga County, Pennsylvania] || (n=177 out of 183 possible days)</text>
<rect x="145.6" y="76.4" width="381" height="176.1" rx="5.56" ry="5.56" fill="#fff" fill-opacity="0.8" stroke="#ccc" stroke-opacity="0.8" stroke-width="2.78"/>
<line x1="156.1" x2="211.7" y1="100.2" y2="100.2" stroke="#000" stroke-width="4.17" stroke-linecap="square"/>
<line x1="156.1" x2="211.7" y1="142.0" y2="142.0" stroke="#00f" stroke-width="4.17" stroke-linecap="square"/>
<line x1="156.1" x2="211.7" y1="183.9" y2="183.9" stroke="#f00" stroke-width="4.17" stroke-linecap="square"/>
<line x1="156.1" x2="211.7" y1="225.8" y2="225.8" stroke="#d3d3d3" stroke-width="4.17" stroke-dasharray="4.17 6.875"/>
<g font-size="27.78"><text x="234.3" y="109.8">Observed</text><text x="234.3" y="151.7">Modeled (Basecase)</text><text x="234.3" y="193.5">Fire Impacts</text><text x="234.3" y="235.3">71 ppb</text></g>
</svg>
</body></html>
